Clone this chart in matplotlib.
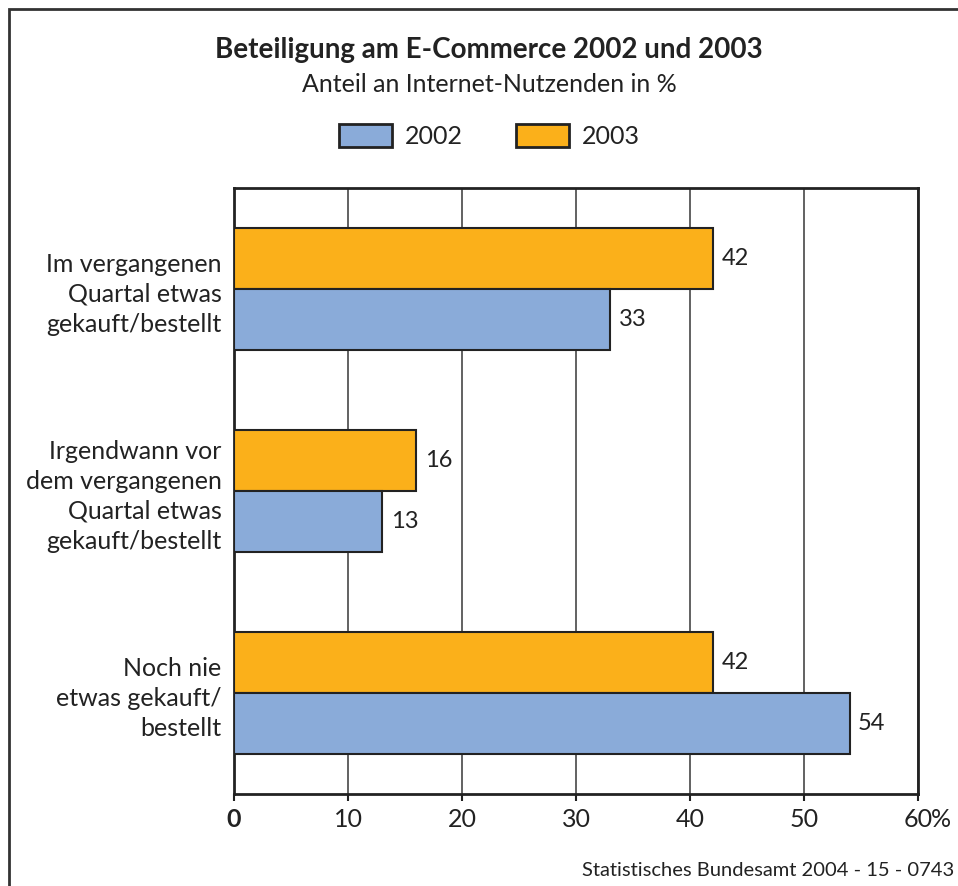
import matplotlib.pyplot as plt
from matplotlib.patches import Rectangle

plt.rcParams['font.family'] = ['Lato', 'DejaVu Sans']

categories = ['Im vergangenen\nQuartal etwas\ngekauft/bestellt',
              'Irgendwann vor\ndem vergangenen\nQuartal etwas\ngekauft/bestellt',
              'Noch nie\netwas gekauft/\nbestellt']
werte_2002 = [33, 13, 54]
werte_2003 = [42, 16, 42]
xticks = [0, 10, 20, 30, 40, 50, 60]

blau = '#8aabd9'
orange = '#fbb01a'
dunkel = '#222222'

fig = plt.figure(figsize=(9.58, 8.86), dpi=100)
ax = fig.add_axes([234/958, 1-794/886, 684/958, 606/886])

pos = list(range(len(categories)))
h = 0.3
ax.barh([p - h/2 for p in pos], werte_2003, height=h, color=orange, edgecolor=dunkel, linewidth=1.5, zorder=3)
ax.barh([p + h/2 for p in pos], werte_2002, height=h, color=blau, edgecolor=dunkel, linewidth=1.5, zorder=3)

for p, v in zip(pos, werte_2003):
    ax.text(v + 0.75, p - h/2, str(v), va='center', ha='left', fontsize=17, color=dunkel)
for p, v in zip(pos, werte_2002):
    ax.text(v + 0.75, p + h/2, str(v), va='center', ha='left', fontsize=17, color=dunkel)

ax.set_xlim(0, 60)
ax.set_ylim(2.5, -0.5)
ax.set_xticks(xticks)
ax.set_xticklabels([str(t) for t in xticks], fontsize=18, color=dunkel)
ax.get_xticklabels()[0].set_fontweight('bold')
ax.tick_params(axis='x', length=5, width=1.5, color=dunkel, pad=5)
ax.set_yticks(pos)
ax.set_yticklabels(categories, fontsize=18, color=dunkel, linespacing=1.36)
ax.tick_params(axis='y', length=0, pad=9)
ax.grid(axis='x', color='#555555', linewidth=1.3, zorder=0)
for s in ax.spines.values():
    s.set_linewidth(2)
    s.set_color(dunkel)
ax.annotate('%', xy=(60, 0), xycoords=ax.get_xaxis_transform(), xytext=(9.5, -10),
            textcoords='offset points', fontsize=18, color=dunkel, ha='left', va='top')

fig.text(489/958, 1-50/886, 'Beteiligung am E-Commerce 2002 und 2003', ha='center', va='center',
         fontsize=20, fontweight='bold', color=dunkel)
fig.text(489/958, 1-84/886, 'Anteil an Internet-Nutzenden in %', ha='center', va='center',
         fontsize=18, color=dunkel)

# legend
for x0, col, lab in [(339, blau, '2002'), (516, orange, '2003')]:
    fig.patches.append(Rectangle((x0/958, 1-147/886), 53/958, 23/886, transform=fig.transFigure,
                                 facecolor=col, edgecolor=dunkel, linewidth=2))
    fig.text((x0 + 66)/958, 1-136/886, lab, ha='left', va='center', fontsize=18, color=dunkel)

fig.text(954/958, 1-870/886, 'Statistisches Bundesamt 2004 - 15 - 0743', ha='right', va='center',
         fontsize=14.5, color=dunkel)

# outer frame
fig.patches.append(Rectangle((9/958, -0.1), 1.2, 1 - 9/886 + 0.1, transform=fig.transFigure,
                             fill=False, edgecolor='#333333', linewidth=2))

fig.savefig('out.png', dpi=100)
